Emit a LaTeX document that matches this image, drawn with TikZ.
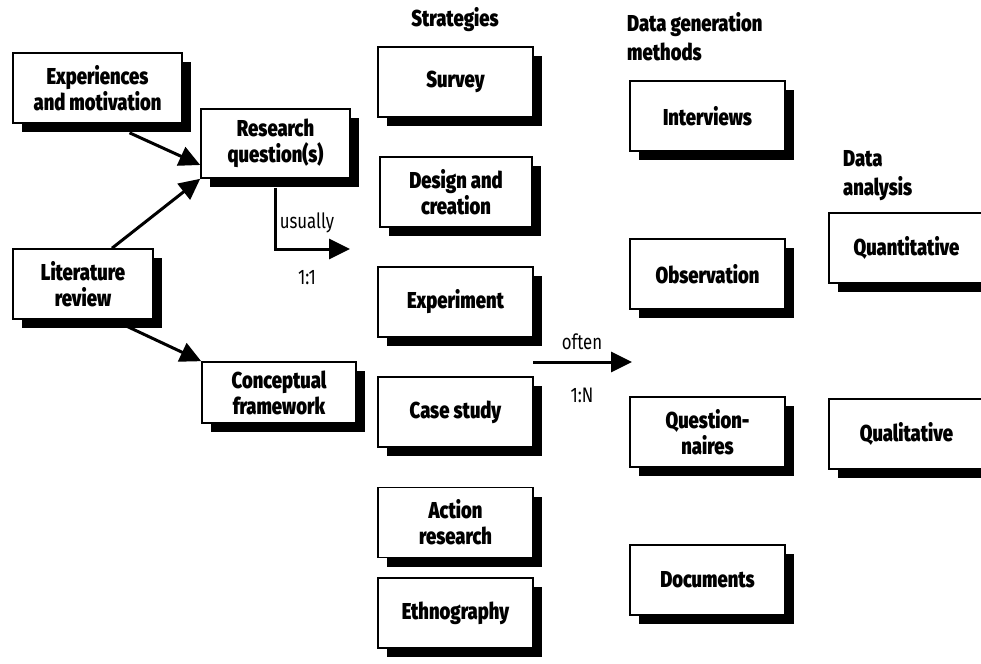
\documentclass[tikz,border=0pt]{standalone}
\usepackage{fontspec}
\setmainfont{Fira Sans}[FakeStretch=0.8, BoldFont={Fira Sans Black}]
\usetikzlibrary{arrows.meta,shadows,backgrounds}
\tikzset{
  box/.style={draw=black, line width=1.6pt, fill=white, align=center,
    minimum width=155pt, minimum height=70pt, inner sep=2pt,
    font=\fontsize{23}{26}\selectfont\bfseries,
    drop shadow={shadow xshift=9pt, shadow yshift=-9pt, fill=black, opacity=1}},
  head/.style={font=\fontsize{23}{29}\selectfont\bfseries, inner sep=0pt},
  lbl/.style={font=\fontsize{21}{22}\selectfont, inner sep=0pt},
  arr/.style={line width=3pt, -{Triangle[length=21pt,width=20pt]}},
}
\begin{document}
\begin{tikzpicture}[x=1pt,y=-1pt]
\useasboundingbox (0,0) rectangle (981,663);
\clip (0,0) rectangle (981,663);

% left column: inputs
\node[box, minimum width=169pt] (exp) at (97.5,88) {Experiences\\and motivation};
\node[box, minimum width=149pt, minimum height=69pt] (res) at (275.5,143.5) {Research\\question(s)};
\node[box, minimum width=140pt] (lit) at (83,284) {Literature\\review};
\node[box, minimum width=154pt, minimum height=61pt] (con) at (279,392.5) {Conceptual\\framework};

% strategies
\node[head] (hstr) at (455,20) {Strategies};
\node[box] (sur) at (455.5,82) {Survey};
\node[box, minimum width=152pt] (des) at (456,192) {Design and\\creation};
\node[box] (exper) at (455.5,302) {Experiment};
\node[box] (cas) at (455.5,412) {Case study};
\node[box] (act) at (455.5,522.5) {Action\\research};
\node[box] (eth) at (455.5,613) {Ethnography};

% data generation methods
\node[head, anchor=west, align=left] (hgen) at (627,37) {Data generation\\methods};
\node[box] (int) at (707.5,116) {Interviews};
\node[box] (obs) at (707.5,274) {Observation};
\node[box] (que) at (707.5,432) {Question-\\naires};
\node[box] (doc) at (707.5,580) {Documents};

% data analysis
\node[head, anchor=west, align=left] (hana) at (843,176) {Data\\analysis};
\node[box] (quan) at (906.5,248) {Quantitative};
\node[box] (qual) at (906.5,434) {Qualitative};

% connectors
\coordinate (u) at (350,249);
\coordinate (oa) at (533,362);
\coordinate (ob) at (632,362);
\begin{scope}[on background layer]
\draw[arr] ([xshift=32pt,yshift=-9pt]exp.south) -- ([yshift=-21.5pt]res.west);
\draw[arr] ([xshift=29pt]lit.north) -- (res.south west);
\draw[arr] ([xshift=30pt]lit.south) -- (con.north west);
\end{scope}
\draw[arr] ([yshift=-9pt]res.south) |- (u);
\draw[arr] (oa) -- (ob);

\node[lbl] (lu) at (307,223) {usually};
\node[lbl] (l11) at (307,278) {1:1};
\node[lbl] (lo) at (582,342) {often};
\node[lbl] (l1n) at (582,395) {1:N};
\end{tikzpicture}
\end{document}
